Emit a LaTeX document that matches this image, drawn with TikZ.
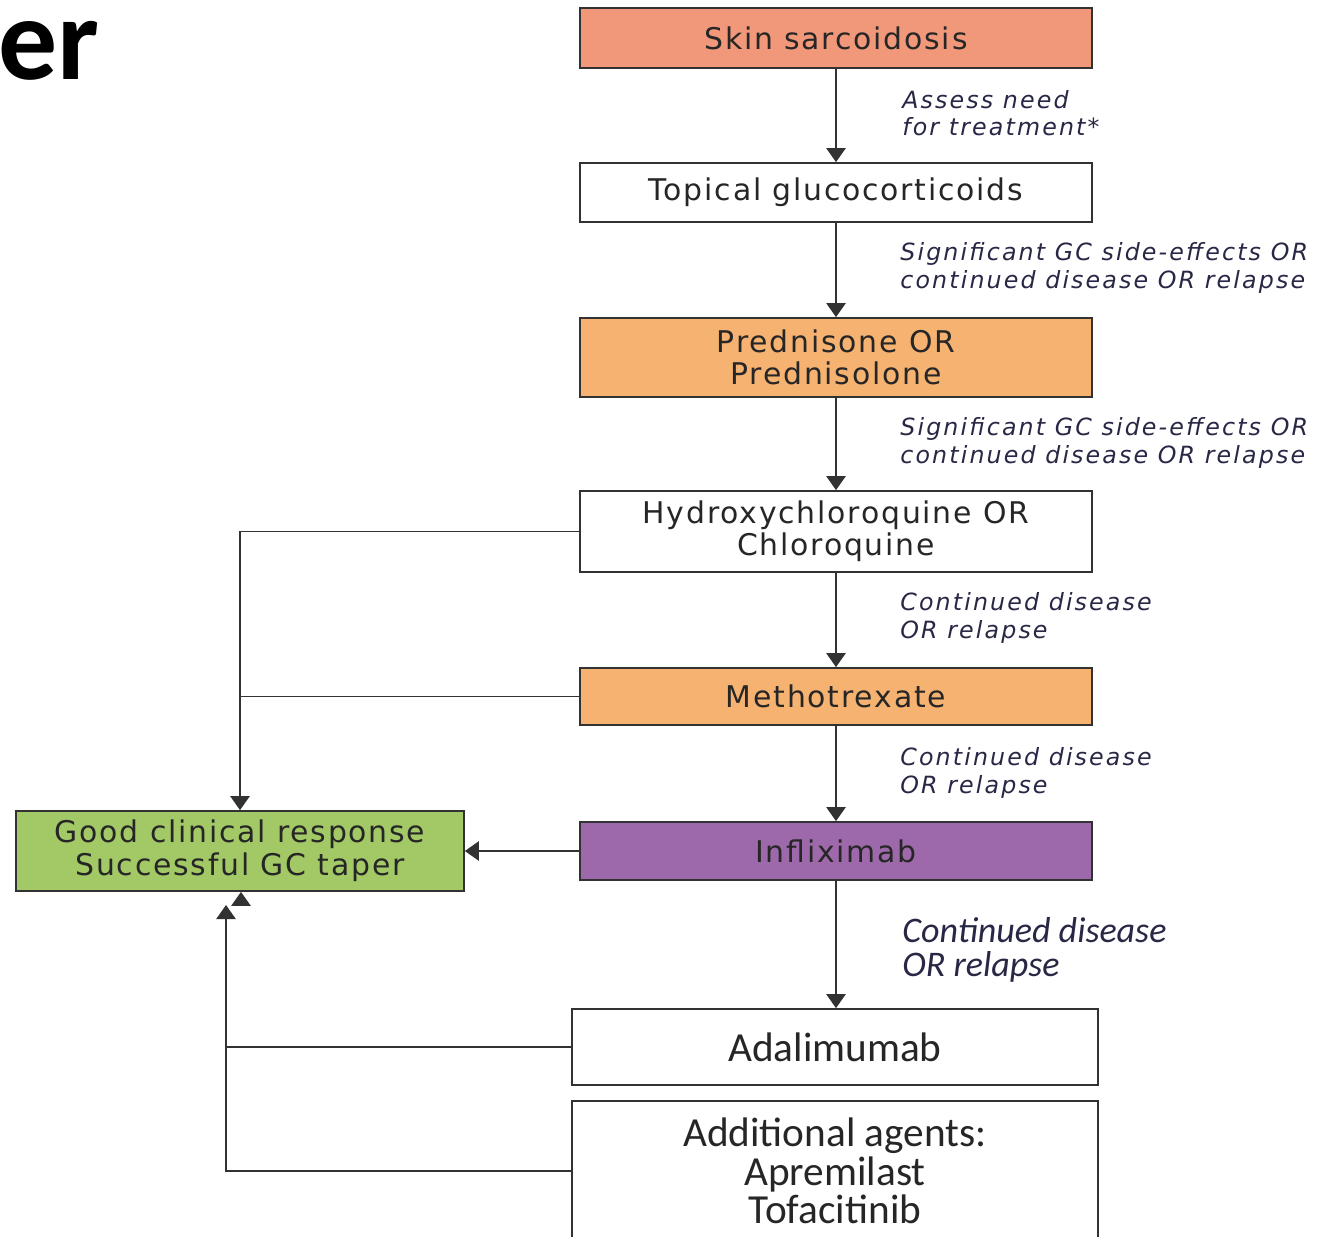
\documentclass[tikz,border=0pt]{standalone}
\usepackage{fontspec}
\setmainfont{DejaVu Sans}
\newfontfamily\boxfont[LetterSpace=6]{DejaVu Sans}
\newfontfamily\notefont[LetterSpace=9]{DejaVu Sans}
\newfontfamily\lowfont{Carlito}
\usetikzlibrary{arrows.meta}

\definecolor{skinred}{RGB}{242,152,122}
\definecolor{gcorange}{RGB}{245,178,112}
\definecolor{tnfpurple}{RGB}{158,105,170}
\definecolor{goodgreen}{RGB}{162,201,102}
\definecolor{boxline}{RGB}{50,50,50}
\definecolor{notenavy}{RGB}{40,40,70}

\begin{document}
\begin{tikzpicture}[x=0.02cm, y=-0.02cm,
  box/.style={draw=boxline, line width=1pt, minimum width=10.24cm, align=center,
    font=\boxfont\fontsize{17}{18.5}\selectfont, text=black!85, inner sep=0pt},
  lowbox/.style={box, minimum width=10.52cm, font=\lowfont\fontsize{23.5}{22}\selectfont},
  note/.style={anchor=west, align=left, inner sep=0pt, text=notenavy,
    font=\notefont\itshape\fontsize{13.5}{15.5}\selectfont},
  arr/.style={draw=boxline, line width=1pt, -{Triangle[width=11pt,length=8pt]}},
  link/.style={draw=boxline, line width=0.8pt}]

% -----------------------
% Frame (page size)
% -----------------------
\useasboundingbox (0,0) rectangle (1322,1237);

% leftover of the slide title
\node[anchor=base west, inner sep=0pt, font=\lowfont\bfseries\fontsize{67}{67}\selectfont]
  (title) at (-2,80) {er};

% -----------------------
% Main treatment ladder
% -----------------------
\node[box, fill=skinred, minimum height=1.2cm]   (skin)    at (836,38)    {Skin sarcoidosis};
\node[box, minimum height=1.18cm]                (topical) at (836,192.5) {Topical glucocorticoids};
\node[box, fill=gcorange, minimum height=1.58cm] (pred)    at (836,357.5) {Prednisone OR\\Prednisolone};
\node[box, minimum height=1.62cm]                (hcq)     at (836,531.5) {Hydroxychloroquine OR\\Chloroquine};
\node[box, fill=gcorange, minimum height=1.14cm] (mtx)     at (836,696.5) {Methotrexate};
\node[box, fill=tnfpurple, minimum height=1.16cm] (infl)   at (836,851)   {Infliximab};
\node[lowbox, minimum height=1.52cm]             (adal)    at (835,1047)  {Adalimumab};
\node[lowbox, minimum height=2.8cm, font=\lowfont\fontsize{23.5}{22}\selectfont]
  (addl) at (835,1171) {Additional agents:\\Apremilast\\Tofacitinib};

% Response box
\node[box, fill=goodgreen, minimum width=8.96cm, minimum height=1.6cm]
  (good) at (240,851) {Good clinical response\\Successful GC taper};

% -----------------------
% Step-up arrows
% -----------------------
\draw[arr] (skin) -- (topical);
\draw[arr] (topical) -- (pred);
\draw[arr] (pred) -- (hcq);
\draw[arr] (hcq) -- (mtx);
\draw[arr] (mtx) -- (infl);
\draw[arr] (infl.south) -- (infl.south |- adal.north);

% Labels on the arrows
\node[note] (n1) at (902,113) {Assess need\\for treatment*};
\node[note] (n2) at (900,268) {Significant GC side-effects OR\\continued disease OR relapse};
\node[note] (n3) at (900,443) {Significant GC side-effects OR\\continued disease OR relapse};
\node[note] (n4) at (900,618) {Continued disease\\OR relapse};
\node[note] (n5) at (900,773) {Continued disease\\OR relapse};
\node[note, font=\lowfont\itshape\fontsize{20.5}{19.5}\selectfont]
  (n6) at (902,950) {Continued disease\\OR relapse};

% -----------------------
% Return paths to the response box
% -----------------------
\coordinate (riseA) at (241,905);
\coordinate (riseB) at (226,905);

\draw[arr] (hcq.west) -| (good.north);
\draw[link] (mtx.west) -- (mtx.west -| good.north);
\draw[arr] (infl.west) -- (good.east);
\draw[arr] (riseA) -- (riseA |- good.south);
\draw[arr] (adal.west) -| (riseB);
\draw[link] (addl.west) -| (adal.west -| riseB);

\end{tikzpicture}
\end{document}
